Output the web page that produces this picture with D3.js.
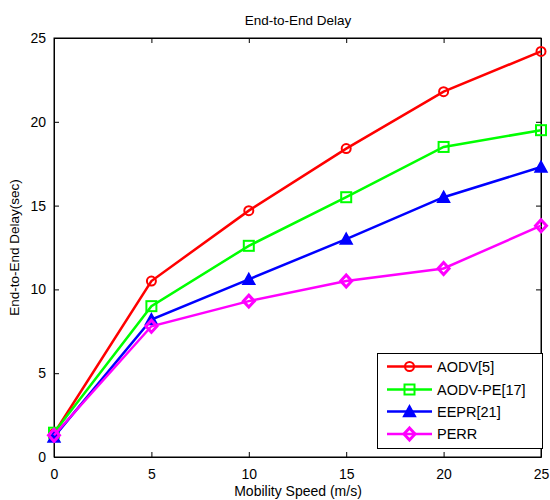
<!DOCTYPE html>
<html><head><meta charset="utf-8">
<script src="https://cdn.jsdelivr.net/npm/d3@7"></script>
<style>body{margin:0;background:#fff;} svg{display:block;font-family:"Liberation Sans",Arial,sans-serif;}</style>
</head><body>
<svg id="c" width="550" height="500"></svg>
<script>
const speeds = [0, 5, 10, 15, 20, 25];
const seriesNames = ["AODV[5]", "AODV-PE[17]", "EEPR[21]", "PERR"];
const aodv   = [1.4, 10.5, 14.7, 18.4, 21.8, 24.2];
const aodvPE = [1.45, 9.0, 12.6, 15.5, 18.5, 19.5];
const eepr   = [1.2, 8.2, 10.6, 13.0, 15.5, 17.3];
const perr   = [1.3, 7.8, 9.3, 10.5, 11.25, 13.8];
const xTicks = [0, 5, 10, 15, 20, 25];
const yTicks = [0, 5, 10, 15, 20, 25];
const colors = ["#ff0000", "#00ff00", "#0000ff", "#ff00ff"];
const markers = ["circle", "square", "triangle", "diamond"];
const allValues = [aodv, aodvPE, eepr, perr];

const svg = d3.select("#c");
const L = 54, R = 541, T = 38, B = 457;
const x = d3.scaleLinear().domain([0, 25]).range([L, R]);
const y = d3.scaleLinear().domain([0, 25]).range([B, T]);

svg.append("rect").attr("x", L).attr("y", T).attr("width", R - L).attr("height", B - T)
  .attr("fill", "none").attr("stroke", "#000").attr("stroke-width", 1);

const fs = "14px";
const xb = svg.append("g").attr("transform", `translate(0,${B})`)
  .call(d3.axisBottom(x).tickValues(xTicks).tickSizeInner(-5).tickSizeOuter(0).tickPadding(12));
const xt = svg.append("g").attr("transform", `translate(0,${T})`)
  .call(d3.axisTop(x).tickValues(xTicks).tickSizeInner(-5).tickSizeOuter(0).tickFormat(""));
const yl = svg.append("g").attr("transform", `translate(${L},0)`)
  .call(d3.axisLeft(y).tickValues(yTicks).tickSizeInner(-5).tickSizeOuter(0).tickPadding(8));
const yr = svg.append("g").attr("transform", `translate(${R},0)`)
  .call(d3.axisRight(y).tickValues(yTicks).tickSizeInner(-5).tickSizeOuter(0).tickFormat(""));
[xb, xt, yl, yr].forEach(g => {
  g.select(".domain").attr("stroke", "#000");
  g.selectAll("line").attr("stroke", "#000");
  g.selectAll("text").attr("fill", "#000").style("font-size", fs).style("font-family", "Liberation Sans, Arial, sans-serif");
});

svg.append("text").attr("x", 298).attr("y", 25).attr("text-anchor", "middle")
  .style("font-size", "13.5px").text("End-to-End Delay");
svg.append("text").attr("x", 298).attr("y", 496).attr("text-anchor", "middle")
  .style("font-size", "14px").text("Mobility Speed (m/s)");
svg.append("text").attr("transform", `translate(19,${(T + B) / 2}) rotate(-90)`).attr("text-anchor", "middle")
  .style("font-size", "13.5px").text("End-to-End Delay(sec)");

function drawMarker(g, type, cx, cy, color) {
  if (type === "circle") {
    g.append("circle").attr("cx", cx).attr("cy", cy).attr("r", 4.5)
      .attr("fill", "none").attr("stroke", color).attr("stroke-width", 2);
  } else if (type === "square") {
    g.append("rect").attr("x", cx - 5).attr("y", cy - 5).attr("width", 10).attr("height", 10)
      .attr("fill", "none").attr("stroke", color).attr("stroke-width", 2);
  } else if (type === "triangle") {
    g.append("path").attr("d", `M${cx},${cy - 6}L${cx + 6},${cy + 5}L${cx - 6},${cy + 5}Z`)
      .attr("fill", color).attr("stroke", color).attr("stroke-width", 1.5);
  } else {
    g.append("path").attr("d", `M${cx},${cy - 6}L${cx + 5.5},${cy}L${cx},${cy + 6}L${cx - 5.5},${cy}Z`)
      .attr("fill", "none").attr("stroke", color).attr("stroke-width", 3);
  }
}

const line = d3.line().x((d, i) => x(speeds[i])).y(d => y(d));
allValues.forEach((vals, s) => {
  const g = svg.append("g");
  g.append("path").attr("d", line(vals)).attr("fill", "none")
    .attr("stroke", colors[s]).attr("stroke-width", 2.5);
  vals.forEach((v, i) => drawMarker(g, markers[s], x(speeds[i]), y(v), colors[s]));
});

const lg = svg.append("g");
lg.append("rect").attr("x", 377.5).attr("y", 353.5).attr("width", 165).attr("height", 95)
  .attr("fill", "#fff").attr("stroke", "#000").attr("stroke-width", 1);
const rowY = [366.5, 389.5, 411.5, 434];
seriesNames.forEach((n, s) => {
  lg.append("line").attr("x1", 387).attr("x2", 432).attr("y1", rowY[s]).attr("y2", rowY[s])
    .attr("stroke", colors[s]).attr("stroke-width", 2.5);
  drawMarker(lg, markers[s], 409.5, rowY[s], colors[s]);
  lg.append("text").attr("x", 437).attr("y", rowY[s] + 5).style("font-size", "14.5px").text(n);
});
</script>
</body></html>
